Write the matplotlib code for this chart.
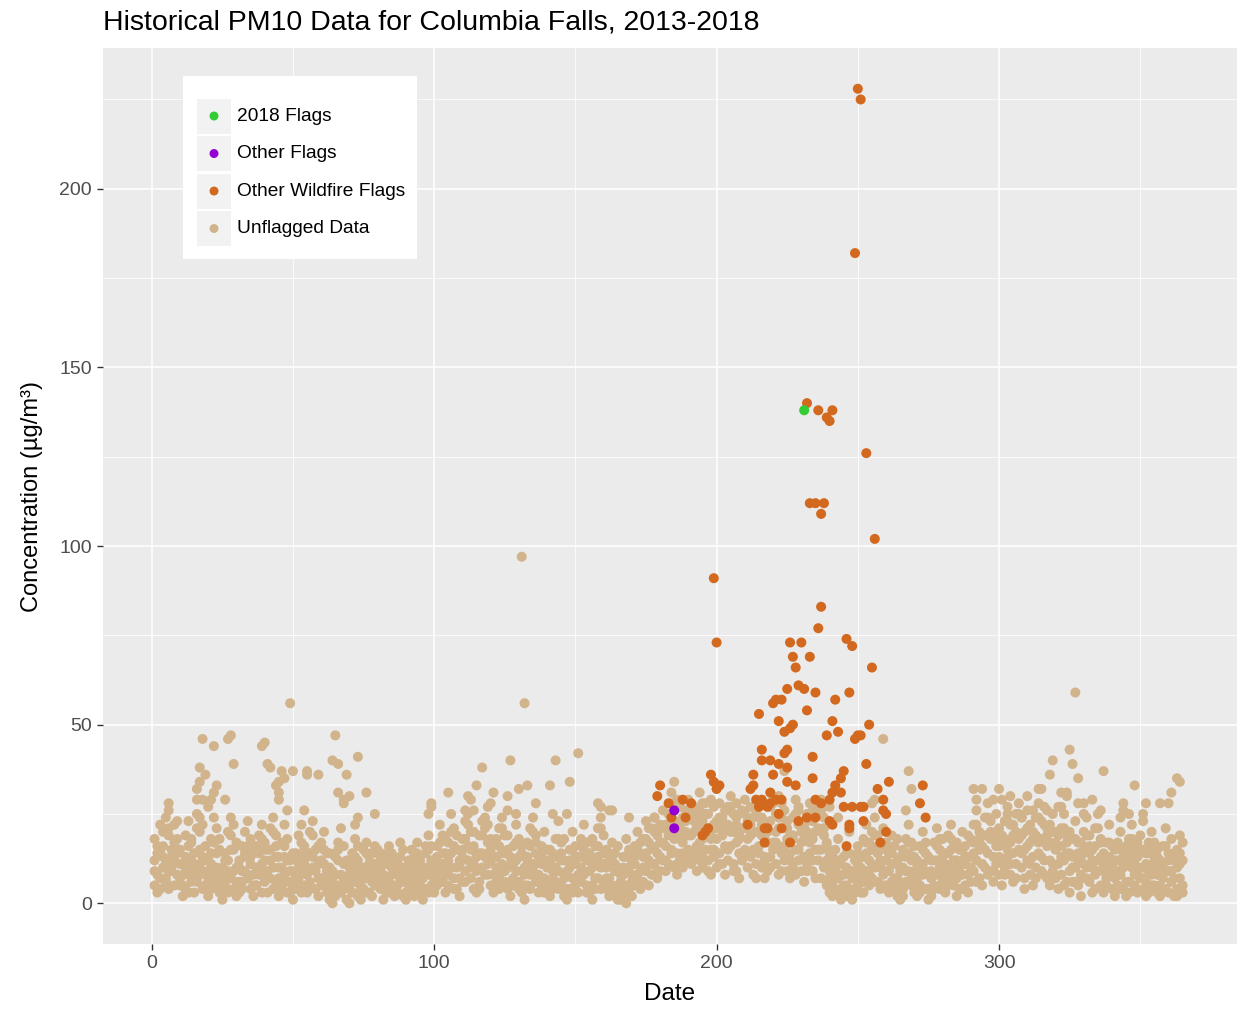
import numpy as np
import matplotlib
matplotlib.use("Agg")
import matplotlib.pyplot as plt
from matplotlib.patches import Rectangle

plt.rcParams["font.family"] = ["Liberation Sans", "DejaVu Sans"]

# ---------------------------------------------------------
# Data (day of year vs PM10 concentration)
# ---------------------------------------------------------
days = np.arange(1, 366)

unflagged_a = [
    12, 8, 14, 20, 11, 9, 15, 22, 18, 7, 5, 10, 16, 12, 9, 21, 24, 13, 8, 6,
    11, 17, 14, 9, 4, 7, 12, 19, 15, 10, 6, 9, 13, 16, 11, 8, 5, 14, 18, 12,
    9, 15, 20, 13, 7, 10, 16, 12, 6, 4, 8, 13, 17, 11, 9, 14, 19, 10, 7, 12,
    15, 9, 5, 3, 8, 12, 16, 11, 6, 4, 9, 13, 7, 5, 10, 14, 8, 6, 11, 15,
    9, 4, 7, 12, 10, 5, 8, 13, 6, 3, 7, 11, 9, 14, 6, 4, 10, 15, 12, 8,
    11, 17, 14, 9, 12, 20, 16, 10, 7, 13, 18, 22, 15, 11, 9, 14, 19, 24, 17, 12,
    8, 13, 16, 21, 14, 10, 6, 11, 17, 13, 9, 5, 12, 16, 20, 14, 8, 11, 15, 10,
    6, 9, 13, 18, 12, 7, 4, 10, 15, 11, 8, 13, 17, 12, 9, 5, 11, 16, 21, 14,
    10, 7, 12, 9, 5, 3, 8, 13, 10, 6, 11, 15, 9, 13, 18, 12, 16, 20, 14, 17,
    21, 16, 19, 24, 18, 14, 22, 17, 20, 26, 19, 23, 16, 21, 18, 25, 20, 15, 22, 18,
    24, 19, 16, 22, 27, 20, 17, 14, 21, 25, 18, 22, 15, 20, 24, 19, 13, 17, 23, 28,
    20, 16, 24, 21, 18, 14, 19, 25, 22, 17, 13, 20, 24, 18, 15, 21, 26, 19, 12, 9,
    6, 10, 7, 4, 8, 5, 9, 3, 7, 11, 8, 13, 17, 12, 15, 19, 14, 10, 16, 12,
    9, 14, 11, 7, 5, 10, 13, 17, 12, 8, 6, 11, 15, 9, 4, 7, 12, 16, 10, 13,
    9, 14, 18, 12, 7, 10, 15, 11, 8, 13, 17, 22, 15, 11, 19, 24, 18, 13, 20, 16,
    12, 18, 23, 17, 14, 20, 25, 19, 15, 21, 17, 13, 19, 24, 18, 22, 16, 12, 20, 15,
    11, 16, 21, 14, 9, 13, 18, 12, 8, 15, 19, 14, 10, 16, 21, 13, 9, 12, 17, 11,
    7, 12, 15, 10, 6, 13, 18, 11, 8, 14, 10, 6, 9, 15, 12, 8, 5, 11, 16, 9,
    13, 7, 10, 14, 12,
]

unflagged_b = [
    5, 3, 7, 10, 6, 4, 9, 12, 8, 5, 2, 4, 8, 6, 3, 7, 11, 9, 5, 2,
    4, 8, 6, 3, 1, 5, 9, 7, 4, 2, 3, 6, 9, 7, 4, 2, 5, 8, 11, 6,
    3, 7, 10, 5, 2, 4, 8, 6, 3, 1, 4, 7, 9, 5, 3, 6, 10, 4, 2, 5,
    7, 3, 1, 0, 2, 5, 8, 4, 1, 0, 3, 6, 2, 1, 4, 7, 3, 2, 5, 8,
    4, 1, 3, 6, 4, 2, 3, 7, 2, 1, 3, 5, 2, 7, 3, 1, 4, 8, 5, 3,
    5, 9, 6, 3, 5, 10, 7, 4, 2, 6, 9, 12, 7, 4, 3, 6, 10, 13, 8, 5,
    3, 6, 8, 11, 6, 4, 2, 5, 9, 6, 3, 1, 5, 8, 10, 6, 3, 5, 7, 4,
    2, 4, 6, 9, 5, 2, 1, 4, 7, 5, 3, 6, 8, 5, 3, 1, 4, 7, 10, 6,
    4, 2, 5, 3, 1, 1, 2, 0, 4, 2, 5, 8, 4, 6, 9, 5, 8, 11, 7, 9,
    12, 9, 11, 14, 10, 8, 13, 10, 12, 15, 11, 14, 9, 12, 10, 15, 12, 8, 13, 10,
    14, 11, 8, 12, 16, 11, 9, 7, 12, 15, 10, 13, 8, 11, 14, 10, 7, 9, 13, 17,
    11, 8, 14, 12, 9, 7, 10, 15, 12, 9, 6, 11, 14, 9, 7, 12, 15, 10, 5, 3,
    2, 4, 3, 1, 3, 2, 4, 1, 3, 5, 3, 6, 9, 5, 7, 10, 6, 4, 8, 5,
    3, 6, 4, 2, 1, 4, 6, 9, 5, 3, 2, 5, 8, 4, 1, 2, 5, 8, 4, 6,
    3, 7, 10, 5, 2, 4, 8, 5, 3, 6, 9, 12, 7, 5, 10, 14, 9, 6, 11, 8,
    5, 10, 13, 8, 6, 11, 15, 10, 7, 12, 8, 5, 10, 14, 9, 12, 7, 5, 11, 7,
    4, 8, 12, 6, 3, 6, 10, 5, 2, 7, 10, 6, 3, 8, 12, 5, 3, 5, 9, 4,
    2, 5, 8, 4, 2, 6, 10, 5, 3, 7, 4, 2, 3, 8, 5, 3, 2, 4, 9, 3,
    6, 2, 4, 7, 5,
]

unflagged_c = [
    18, 14, 22, 16, 24, 19, 13, 17, 23, 15, 11, 19, 23, 17, 14, 25, 20, 22, 16, 12,
    18, 24, 21, 15, 10, 14, 20, 24, 22, 17, 12, 16, 20, 23, 18, 14, 10, 19, 22, 17,
    15, 21, 24, 19, 13, 17, 22, 18, 12, 9, 14, 19, 22, 16, 13, 20, 23, 15, 11, 17,
    20, 14, 10, 7, 13, 17, 21, 16, 11, 8, 14, 18, 12, 9, 15, 17, 13, 10, 16, 14,
    13, 8, 11, 16, 14, 9, 12, 17, 10, 7, 12, 15, 13, 17, 10, 8, 14, 19, 16, 12,
    16, 22, 19, 14, 17, 25, 21, 15, 12, 18, 23, 25, 20, 16, 14, 19, 23, 21, 22, 18,
    13, 18, 21, 24, 19, 15, 11, 16, 22, 18, 14, 10, 17, 21, 24, 19, 13, 16, 20, 15,
    11, 14, 18, 23, 17, 12, 9, 15, 20, 16, 13, 18, 22, 17, 14, 10, 16, 21, 24, 19,
    15, 12, 17, 14, 10, 8, 13, 18, 15, 11, 16, 20, 14, 18, 23, 17, 21, 24, 19, 22,
    26, 22, 25, 28, 23, 20, 27, 24, 26, 29, 24, 27, 21, 26, 23, 28, 25, 20, 27, 23,
    28, 24, 21, 26, 30, 25, 22, 19, 26, 29, 23, 27, 20, 25, 28, 24, 18, 22, 27, 30,
    25, 21, 28, 26, 23, 19, 24, 29, 27, 22, 18, 25, 28, 23, 20, 26, 29, 24, 17, 14,
    11, 15, 12, 8, 13, 10, 14, 7, 12, 16, 13, 18, 22, 17, 20, 24, 19, 15, 21, 17,
    14, 19, 16, 12, 9, 15, 18, 22, 17, 13, 10, 16, 20, 14, 8, 12, 17, 21, 15, 18,
    14, 19, 22, 17, 12, 15, 20, 16, 13, 18, 22, 26, 20, 16, 24, 28, 23, 18, 25, 21,
    17, 23, 27, 22, 19, 25, 28, 24, 20, 26, 22, 18, 24, 28, 23, 27, 21, 17, 25, 20,
    16, 21, 25, 19, 14, 18, 23, 17, 13, 20, 24, 19, 15, 21, 25, 18, 14, 17, 22, 16,
    12, 17, 20, 15, 11, 18, 22, 16, 13, 19, 15, 11, 14, 20, 17, 13, 10, 16, 21, 14,
    18, 12, 15, 19, 17,
]

unflagged_d = [
    9, 16, 4, 13, 7, 21, 10, 5, 14, 11, 8, 13, 3, 18, 11, 6, 15, 4, 12, 9,
    14, 5, 10, 18, 7, 12, 3, 15, 9, 6, 10, 4, 14, 8, 13, 5, 16, 9, 3, 15,
    7, 12, 4, 16, 10, 6, 13, 3, 9, 14, 6, 11, 3, 15, 8, 4, 13, 9, 16, 7,
    11, 6, 14, 9, 4, 15, 3, 7, 12, 10, 6, 11, 16, 4, 8, 3, 11, 14, 7, 5,
    11, 6, 14, 3, 8, 12, 5, 10, 15, 9, 5, 9, 14, 4, 12, 7, 16, 3, 10, 6,
    13, 7, 11, 18, 8, 14, 4, 19, 11, 15, 6, 16, 10, 20, 13, 4, 14, 8, 11, 15,
    17, 10, 4, 14, 9, 19, 13, 7, 12, 4, 16, 8, 13, 4, 11, 17, 6, 14, 3, 12,
    15, 7, 10, 4, 14, 18, 8, 12, 3, 13, 6, 10, 15, 3, 12, 18, 7, 13, 4, 11,
    7, 14, 4, 11, 16, 6, 10, 5, 13, 8, 13, 6, 17, 10, 14, 21, 11, 15, 9, 13,
    17, 12, 21, 15, 26, 11, 18, 14, 23, 19, 13, 20, 24, 17, 14, 21, 9, 18, 15, 21,
    11, 22, 26, 15, 20, 9, 24, 18, 13, 21, 14, 19, 24, 7, 16, 22, 12, 20, 10, 15,
    17, 24, 9, 16, 21, 12, 18, 8, 15, 20, 22, 9, 17, 12, 25, 15, 7, 21, 16, 7,
    13, 8, 18, 11, 5, 14, 20, 9, 4, 14, 10, 3, 14, 8, 11, 6, 16, 12, 5, 9,
    16, 11, 7, 18, 13, 2, 9, 14, 7, 16, 12, 3, 11, 17, 13, 9, 4, 12, 18, 7,
    11, 5, 15, 8, 17, 11, 4, 13, 19, 10, 14, 6, 18, 11, 15, 8, 20, 9, 16, 13,
    19, 8, 15, 11, 22, 7, 18, 14, 4, 16, 11, 20, 7, 17, 13, 8, 19, 22, 9, 17,
    19, 13, 5, 17, 20, 10, 6, 14, 17, 11, 7, 16, 12, 4, 9, 17, 11, 7, 13, 8,
    15, 9, 4, 13, 16, 3, 14, 8, 17, 10, 7, 14, 17, 5, 10, 15, 12, 7, 4, 12,
    9, 14, 2, 11, 3,
]

# sparse higher unflagged readings
extra_days = [18, 22, 27, 28, 39, 40, 29, 17, 19, 17, 16, 23, 22, 21, 16, 18, 20, 26, 6, 6,
              41, 42, 46, 50, 55, 55, 59, 47, 45, 44, 45, 45, 48, 54, 64, 65, 66, 73, 69, 66,
              68, 68, 70, 76, 79, 73, 72, 49,
              132, 131, 127, 117, 115, 105, 121, 112, 113, 126, 130, 133, 99, 99, 98, 119, 120, 111, 114, 126, 129,
              151, 143, 148, 141, 136, 158, 159, 162, 163, 142, 147, 169, 178,
              185, 184, 194, 198, 195, 186, 192, 191, 204, 207, 224, 222, 229, 234, 240, 243,
              259, 268, 269, 256, 255, 267,
              291, 294, 300, 304, 310, 314, 319, 318, 298, 301, 292, 303, 308, 312, 317, 321,
              327, 325, 326, 328, 337, 348, 363, 364, 361, 322, 324, 324, 333, 328, 330, 315,
              344, 352, 357, 360, 322, 336, 344, 346, 330, 351, 351, 343]
extra_vals = [46, 44, 46, 47, 44, 45, 39, 38, 36, 34, 32, 33, 31, 29, 29, 29, 27, 29, 28, 26,
              39, 38, 37, 37, 37, 36, 36, 35, 34, 33, 31, 29, 26, 26, 40, 47, 39, 41, 36, 31,
              29, 28, 30, 31, 25, 24, 22, 56,
              56, 97, 40, 38, 33, 31, 31, 30, 29, 30, 32, 33, 28, 27, 25, 27, 28, 26, 26, 26, 25,
              42, 40, 34, 33, 28, 28, 27, 26, 26, 25, 25, 24, 24,
              34, 31, 31, 29, 28, 29, 26, 25, 27, 28, 37, 30, 26, 27, 27, 24,
              46, 37, 32, 29, 28, 26,
              32, 32, 32, 30, 30, 32, 40, 36, 29, 29, 29, 25, 24, 26, 26, 27,
              59, 43, 39, 35, 37, 33, 35, 34, 31, 31, 31, 30, 29, 28, 28, 32,
              28, 28, 28, 28, 27, 26, 26, 25, 25, 25, 23, 24]

wildfire_days = [250, 251, 249, 232, 236, 241, 239, 240, 253, 233, 235, 238, 237, 256, 199, 200,
                 237, 236, 226, 230, 246, 248, 227, 233, 228, 255, 225, 229, 231, 235, 247, 242,
                 220, 221, 223, 215, 232, 222, 241, 254, 227, 226, 224, 243, 239, 250, 249, 251,
                 216, 224, 225, 216, 219, 234, 222, 225, 253, 220, 213, 245, 244, 234, 225, 228,
                 242, 241, 244, 198, 199, 200, 201, 261, 257, 273, 272, 274, 180, 179, 183, 188,
                 191, 189, 184, 196, 197, 235, 237, 240, 245, 248, 251, 252, 259, 259, 260, 213,
                 212, 214, 215, 216, 219, 218, 219, 221, 223, 222, 229, 232, 235, 211, 217, 218,
                 223, 226, 217, 240, 241, 247, 247, 246, 252, 258, 260, 195]
wildfire_vals = [228, 225, 182, 140, 138, 138, 136, 135, 126, 112, 112, 112, 109, 102, 91, 73,
                 83, 77, 73, 73, 74, 72, 69, 69, 66, 66, 60, 61, 60, 59, 59, 57,
                 56, 57, 57, 53, 54, 51, 51, 50, 50, 49, 48, 48, 47, 47, 46, 47,
                 43, 42, 43, 40, 40, 41, 39, 38, 39, 36, 36, 37, 35, 35, 34, 33,
                 33, 31, 31, 36, 34, 32, 33, 34, 32, 33, 28, 24, 33, 30, 28, 29,
                 28, 24, 24, 20, 21, 29, 28, 29, 27, 27, 27, 27, 29, 26, 25, 33,
                 32, 29, 27, 29, 31, 27, 28, 29, 29, 25, 23, 24, 24, 22, 21, 21,
                 21, 17, 17, 23, 22, 22, 21, 16, 23, 17, 20, 19]

other_days = [185, 185]
other_vals = [26, 21]

flag2018_days = [231]
flag2018_vals = [138]

categories = ["2018 Flags", "Other Flags", "Other Wildfire Flags", "Unflagged Data"]
colors = ["#32CD32", "#9400D3", "#D2691E", "#D2B48C"]

# ---------------------------------------------------------
# Plotting
# ---------------------------------------------------------
fig = plt.figure(figsize=(12.38, 10.09), dpi=100)
ax = fig.add_axes([0.0832, 0.0644, 0.916, 0.888])
ax.set_facecolor("#EBEBEB")

pt = 52
for series in [unflagged_a, unflagged_b, unflagged_c, unflagged_d]:
    ax.scatter(days, series, s=pt, color=colors[3], edgecolors="none", zorder=3)
ax.scatter(extra_days, extra_vals, s=pt, color=colors[3], edgecolors="none", zorder=3)
ax.scatter(wildfire_days, wildfire_vals, s=pt, color=colors[2], edgecolors="none", zorder=4)
ax.scatter(other_days, other_vals, s=pt, color=colors[1], edgecolors="none", zorder=5)
ax.scatter(flag2018_days, flag2018_vals, s=pt, color=colors[0], edgecolors="none", zorder=6)

ax.set_xlim(-17.25, 384.25)
ax.set_ylim(-11.4, 239.4)
ax.set_xticks([0, 100, 200, 300])
ax.set_yticks([0, 50, 100, 150, 200])
ax.set_xticks([50, 150, 250, 350], minor=True)
ax.set_yticks([25, 75, 125, 175, 225], minor=True)
ax.grid(which="major", color="white", linewidth=1.1, zorder=1)
ax.grid(which="minor", color="white", linewidth=0.55, zorder=1)
ax.set_axisbelow(True)
for sp in ax.spines.values():
    sp.set_visible(False)
ax.tick_params(which="major", length=4, width=1, color="#333333",
               labelsize=14, labelcolor="#4D4D4D", pad=4)
ax.tick_params(which="minor", length=0)

ax.set_xlabel("Date", fontsize=17.5, labelpad=8)
ax.set_ylabel("Concentration (\u00b5g/m\u00b3)", fontsize=17, labelpad=12)
ax.set_title("Historical PM10 Data for Columbia Falls, 2013-2018",
             fontsize=20.5, loc="left", x=0.0, pad=13)

# ggplot-style legend inside the panel
tr = ax.transAxes
ax.add_patch(Rectangle((0.0705, 0.7645), 0.2065, 0.2045, transform=tr,
                       facecolor="white", edgecolor="none", zorder=7))
key_w, key_h = 34 / 1134, 35 / 896
for i, (lab, col) in enumerate(zip(categories, colors)):
    yc = 1 - (116 + 37.5 * i - 48) / 896
    ax.add_patch(Rectangle((0.0829, yc - key_h / 2), key_w, key_h, transform=tr,
                           facecolor="#F2F2F2", edgecolor="none", zorder=8))
    ax.scatter([0.0829 + key_w / 2], [yc], s=pt * 0.8, color=col, edgecolors="none",
               transform=tr, zorder=9)
    ax.text(0.1182, yc, lab, transform=tr, fontsize=13.8, va="center", ha="left", zorder=9)

fig.savefig("out.png", dpi=100)
plt.close(fig)
